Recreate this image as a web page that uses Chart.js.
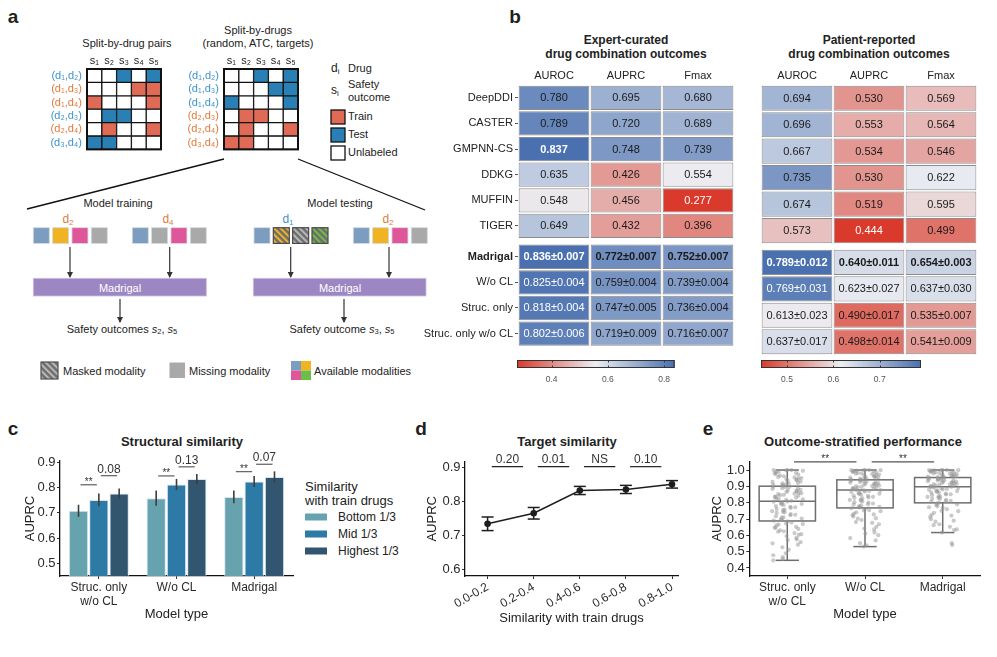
<!DOCTYPE html>
<html>
<head>
<meta charset="utf-8">
<title>Madrigal evaluation figure</title>
<script src="https://cdn.jsdelivr.net/npm/chart.js@4.4.1/dist/chart.umd.min.js"></script>
<style>
  html, body { margin: 0; padding: 0; background: #fff; }
  #page { position: relative; width: 997px; height: 657px; overflow: hidden; background: #fff; }
  #page canvas, #page svg { position: absolute; }
  #art text { dominant-baseline: central; }
</style>
</head>
<body>
<div id="page">
<svg id="art" width="997" height="657" style="left:0;top:0" font-family="Liberation Sans, Arial, sans-serif" fill="#222">
  <defs>
    <marker id="arrow" markerUnits="userSpaceOnUse" markerWidth="6" markerHeight="6" refX="5" refY="3" orient="auto">
      <path d="M0,0 L6,3 L0,6 z" fill="#333"/>
    </marker>
    <pattern id="hatch-y" width="4.5" height="4.5" patternUnits="userSpaceOnUse" patternTransform="rotate(-45)">
      <rect width="4.5" height="4.5" fill="#6e6e6e"/><rect width="2" height="4.5" fill="#f0b323"/>
    </pattern>
    <pattern id="hatch-g" width="4.5" height="4.5" patternUnits="userSpaceOnUse" patternTransform="rotate(-45)">
      <rect width="4.5" height="4.5" fill="#6e6e6e"/><rect width="2" height="4.5" fill="#b8b8b8"/>
    </pattern>
    <pattern id="hatch-n" width="4.5" height="4.5" patternUnits="userSpaceOnUse" patternTransform="rotate(-45)">
      <rect width="4.5" height="4.5" fill="#6e6e6e"/><rect width="2" height="4.5" fill="#6cbf45"/>
    </pattern>
  </defs>

  <!-- panel letters -->
  <g font-size="19" font-weight="bold" fill="#231f20" text-anchor="middle">
    <text x="13" y="16">a</text>
    <text x="515" y="16">b</text>
    <text x="13" y="428">c</text>
    <text x="421" y="428">d</text>
    <text x="708" y="428">e</text>
  </g>

  <!-- panel a headings -->
  <g font-size="11" text-anchor="middle">
    <text x="127" y="43">Split-by-drug pairs</text>
    <text x="258" y="30">Split-by-drugs</text>
    <text x="258" y="43">(random, ATC, targets)</text>
  </g>

  <!-- panel a legend -->
  <g font-size="11">
    <text x="331" y="68" font-size="12">d<tspan font-size="8" dy="3">i</tspan></text>
    <text x="348" y="68">Drug</text>
    <text x="331" y="90" font-size="12">s<tspan font-size="8" dy="3">i</tspan></text>
    <text x="348" y="84">Safety</text>
    <text x="348" y="97">outcome</text>
    <rect x="331" y="110" width="14" height="14" fill="#df6a56" stroke="#111" stroke-width="1.3"/>
    <text x="348" y="115.5">Train</text>
    <rect x="331" y="128" width="14" height="14" fill="#2a80b5" stroke="#111" stroke-width="1.3"/>
    <text x="348" y="133.5">Test</text>
    <rect x="331" y="146" width="14" height="14" fill="#fff" stroke="#111" stroke-width="1.3"/>
    <text x="348" y="151.5">Unlabeled</text>
  </g>

  <!-- zoom lines -->
  <g stroke="#111" stroke-width="1.3">
    <line x1="224" y1="159" x2="27" y2="209"/>
    <line x1="298" y1="159" x2="425" y2="210"/>
  </g>

  <g font-size="11" text-anchor="middle">
    <text x="118" y="203">Model training</text>
    <text x="340" y="203">Model testing</text>
  </g>
  <g font-size="12" text-anchor="middle">
    <text x="68" y="219" fill="#e07b3a">d<tspan font-size="8" dy="3">2</tspan></text>
    <text x="168" y="219" fill="#e07b3a">d<tspan font-size="8" dy="3">4</tspan></text>
    <text x="288" y="219" fill="#3f93cc">d<tspan font-size="8" dy="3">1</tspan></text>
    <text x="388" y="219" fill="#e07b3a">d<tspan font-size="8" dy="3">2</tspan></text>
  </g>
  <g id="modalities"></g>

  <g stroke="#333" stroke-width="1.2" marker-end="url(#arrow)">
    <line x1="70" y1="247" x2="70" y2="277"/>
    <line x1="169.7" y1="247" x2="169.7" y2="277"/>
    <line x1="290.7" y1="247" x2="290.7" y2="277"/>
    <line x1="389" y1="247" x2="389" y2="277"/>
    <line x1="120" y1="299" x2="120" y2="322"/>
    <line x1="344" y1="299" x2="344" y2="322"/>
  </g>
  <rect x="33.3" y="278.3" width="173" height="17.7" fill="#9c87c3" stroke="#cbbfe0" stroke-width="0.8"/>
  <rect x="253.3" y="278.3" width="172.7" height="17.7" fill="#9c87c3" stroke="#cbbfe0" stroke-width="0.8"/>
  <g font-size="11" fill="#fff" text-anchor="middle">
    <text x="120" y="287.5">Madrigal</text>
    <text x="340" y="287.5">Madrigal</text>
  </g>
  <g font-size="11" text-anchor="middle">
    <text x="122" y="328.5">Safety outcomes <tspan font-style="italic">s</tspan><tspan font-size="7.5" dy="2.5">2</tspan><tspan dy="-2.5">, </tspan><tspan font-style="italic">s</tspan><tspan font-size="7.5" dy="2.5">5</tspan></text>
    <text x="342" y="328.5">Safety outcome  <tspan font-style="italic">s</tspan><tspan font-size="7.5" dy="2.5">3</tspan><tspan dy="-2.5">, </tspan><tspan font-style="italic">s</tspan><tspan font-size="7.5" dy="2.5">5</tspan></text>
  </g>

  <!-- bottom legend of panel a -->
  <rect x="41" y="362" width="17" height="17" fill="url(#hatch-g)" stroke="#505050" stroke-width="1.2"/>
  <rect x="169.5" y="362.5" width="15.5" height="15.5" fill="#a9a9a9"/>
  <rect x="291" y="361" width="10" height="9.5" fill="#7d9dc0"/>
  <rect x="301" y="361" width="10" height="9.5" fill="#f0b323"/>
  <rect x="291" y="370.5" width="10" height="9.5" fill="#e0569b"/>
  <rect x="301" y="370.5" width="10" height="9.5" fill="#6cbf45"/>
  <g font-size="11">
    <text x="63" y="370.5">Masked modality</text>
    <text x="189" y="370.5">Missing modality</text>
    <text x="314" y="370.5">Available modalities</text>
  </g>

  <!-- panel b headings -->
  <g font-size="12" font-weight="bold" text-anchor="middle">
    <text x="626" y="39.5">Expert-curated</text>
    <text x="626" y="53.5">drug combination outcomes</text>
    <text x="869" y="39.5">Patient-reported</text>
    <text x="869" y="53.5">drug combination outcomes</text>
  </g>

  <!-- panel titles c, d, e -->
  <g font-size="13" font-weight="bold" text-anchor="middle">
    <text x="182" y="441">Structural similarity</text>
    <text x="567" y="441">Target similarity</text>
    <text x="863" y="441">Outcome-stratified performance</text>
  </g>
  <g id="legend-c"></g>
</svg>

<canvas id="grid-pairs" width="143" height="109" style="left:20px;top:52px"></canvas>
<canvas id="grid-drugs" width="143" height="109" style="left:157px;top:52px"></canvas>
<canvas id="heat-expert" width="334" height="293" style="left:400px;top:62px"></canvas>
<canvas id="heat-patient" width="216" height="293" style="left:761px;top:62px"></canvas>
<canvas id="bar-expert" width="160" height="32" style="left:517px;top:358px"></canvas>
<canvas id="bar-patient" width="160" height="32" style="left:761px;top:358px"></canvas>
<canvas id="chart-c" width="300" height="190" style="left:0px;top:432px"></canvas>
<canvas id="chart-d" width="285" height="194" style="left:400px;top:432px"></canvas>
<canvas id="chart-e" width="290" height="190" style="left:700px;top:432px"></canvas>
</div>

<script>
// ---------- a: split schematics (0 unlabeled, 1 train, 2 test) ----------
const outcomeLabels = ['s₁', 's₂', 's₃', 's₄', 's₅'];
const pairLabels = ['(d₁,d₂)', '(d₁,d₃)', '(d₁,d₄)', '(d₂,d₃)', '(d₂,d₄)', '(d₃,d₄)'];
const pairRoles = [2, 1, 1, 2, 1, 2];
const pairSplit = [
  [0, 0, 2, 0, 2],
  [0, 0, 0, 1, 1],
  [1, 0, 0, 0, 1],
  [0, 2, 2, 0, 0],
  [0, 1, 0, 0, 1],
  [2, 2, 0, 0, 0]
];
const drugRoles = [2, 2, 2, 1, 1, 1];
const drugSplit = [
  [0, 0, 2, 0, 2],
  [0, 0, 0, 2, 2],
  [2, 0, 0, 0, 2],
  [0, 1, 1, 0, 0],
  [0, 1, 0, 0, 1],
  [1, 1, 0, 0, 0]
];

// ---------- b: benchmark tables ----------
const models = ['DeepDDI', 'CASTER', 'GMPNN-CS', 'DDKG', 'MUFFIN', 'TIGER', 'Madrigal', 'W/o CL', 'Struc. only', 'Struc. only w/o CL'];
const metrics = ['AUROC', 'AUPRC', 'Fmax'];
const expertAuroc = [0.780, 0.789, 0.837, 0.635, 0.548, 0.649, 0.836, 0.825, 0.818, 0.802];
const expertAuprc = [0.695, 0.720, 0.748, 0.426, 0.456, 0.432, 0.772, 0.759, 0.747, 0.719];
const expertFmax = [0.680, 0.689, 0.739, 0.554, 0.277, 0.396, 0.752, 0.739, 0.736, 0.716];
const expertAurocSd = [null, null, null, null, null, null, 0.007, 0.004, 0.004, 0.006];
const expertAuprcSd = [null, null, null, null, null, null, 0.007, 0.004, 0.005, 0.009];
const expertFmaxSd = [null, null, null, null, null, null, 0.007, 0.004, 0.004, 0.007];
const expertBold = [[2, 0]];
const patientAuroc = [0.694, 0.696, 0.667, 0.735, 0.674, 0.573, 0.789, 0.769, 0.613, 0.637];
const patientAuprc = [0.530, 0.553, 0.534, 0.530, 0.519, 0.444, 0.640, 0.623, 0.490, 0.498];
const patientFmax = [0.569, 0.564, 0.546, 0.622, 0.595, 0.499, 0.654, 0.637, 0.535, 0.541];
const patientAurocSd = [null, null, null, null, null, null, 0.012, 0.031, 0.023, 0.017];
const patientAuprcSd = [null, null, null, null, null, null, 0.011, 0.027, 0.017, 0.014];
const patientFmaxSd = [null, null, null, null, null, null, 0.003, 0.030, 0.007, 0.009];
const patientBold = [];
const expertBarTicks = [0.4, 0.6, 0.8];
const patientBarTicks = [0.5, 0.6, 0.7];

// ---------- c: structural similarity ----------
const simModels = [['Struc. only', 'w/o CL'], 'W/o CL', 'Madrigal'];
const simGroups = ['Bottom 1/3', 'Mid 1/3', 'Highest 1/3'];
const simBottom = [0.708, 0.758, 0.763];
const simMid = [0.751, 0.812, 0.824];
const simHigh = [0.776, 0.834, 0.842];
const simBottomErr = [0.024, 0.030, 0.025];
const simMidErr = [0.025, 0.022, 0.022];
const simHighErr = [0.020, 0.020, 0.022];
const simSigBottomMid = ['**', '**', '**'];
const simSigMidHigh = ['0.08', '0.13', '0.07'];
const simSigLowY = [0.811, 0.846, 0.863];
const simSigHighY = [0.847, 0.882, 0.892];
const simTicks = [0.5, 0.6, 0.7, 0.8, 0.9];

// ---------- d: target similarity ----------
const targetBins = ['0.0-0.2', '0.2-0.4', '0.4-0.6', '0.6-0.8', '0.8-1.0'];
const targetAuprc = [0.735, 0.766, 0.833, 0.836, 0.851];
const targetErr = [0.020, 0.017, 0.012, 0.012, 0.011];
const targetSig = ['0.20', '0.01', 'NS', '0.10'];
const targetSigY = 0.903;
const targetTicks = [0.6, 0.7, 0.8, 0.9];

// ---------- e: outcome-stratified ----------
const outcomeModels = [['Struc. only', 'w/o CL'], 'W/o CL', 'Madrigal'];
const boxLow = [0.447, 0.531, 0.617];
const boxQ1 = [0.688, 0.768, 0.799];
const boxMedian = [0.809, 0.878, 0.897];
const boxQ3 = [0.901, 0.940, 0.954];
const boxHigh = [1.0, 1.0, 1.0];
const outcomeSig = ['**', '**'];
const outcomeSigY = 1.05;
const outcomeTicks = [0.4, 0.5, 0.6, 0.7, 0.8, 0.9, 1.0];
const strucOnlyPoints = [1.0, 1.0, 1.0, 0.998, 0.995, 0.99, 0.987, 0.983, 0.981, 0.975, 0.972, 0.966, 0.962, 0.958, 0.955, 0.951, 0.949, 0.944, 0.941,
  0.938, 0.933, 0.929, 0.927, 0.921, 0.918, 0.915, 0.912, 0.909, 0.907, 0.903,
  0.897, 0.896, 0.894, 0.889, 0.887, 0.884, 0.879, 0.874, 0.872, 0.869, 0.866, 0.861, 0.858, 0.855, 0.852, 0.848, 0.846, 0.843, 0.838, 0.835,
  0.831, 0.826, 0.823, 0.821, 0.817, 0.812, 0.808,
  0.806, 0.801, 0.797, 0.792, 0.79, 0.786, 0.779, 0.775, 0.772, 0.768, 0.761, 0.758, 0.755, 0.748, 0.744, 0.741, 0.737, 0.73, 0.726, 0.723,
  0.717, 0.71, 0.708, 0.703, 0.697, 0.693, 0.69,
  0.686, 0.679, 0.672, 0.669, 0.666, 0.661, 0.652, 0.648, 0.645, 0.639, 0.631, 0.625, 0.622, 0.614, 0.607, 0.603, 0.596, 0.584, 0.575,
  0.571, 0.558, 0.551, 0.543, 0.527, 0.511, 0.49, 0.478, 0.466, 0.455, 0.447];
const woClPoints = [1.0, 1.0, 1.0, 1.0, 0.999, 0.997, 0.995, 0.993, 0.99, 0.988, 0.986, 0.982, 0.98, 0.978, 0.975, 0.972, 0.97, 0.967, 0.963, 0.961,
  0.958, 0.955, 0.953, 0.951, 0.948, 0.945, 0.944, 0.941, 0.94,
  0.937, 0.935, 0.934, 0.93, 0.927, 0.926, 0.923, 0.92, 0.918, 0.916, 0.912, 0.91, 0.908, 0.905, 0.902, 0.9, 0.897, 0.894, 0.893, 0.889,
  0.886, 0.885, 0.882, 0.879, 0.877, 0.876, 0.872, 0.868, 0.866, 0.863,
  0.858, 0.855, 0.853, 0.848, 0.844, 0.842, 0.836, 0.832, 0.83, 0.826, 0.819, 0.817, 0.813, 0.808, 0.803, 0.801, 0.795, 0.79, 0.788,
  0.784, 0.779, 0.774, 0.772, 0.77, 0.766, 0.761,
  0.755, 0.752, 0.748, 0.741, 0.733, 0.728, 0.724, 0.716, 0.705, 0.702, 0.694, 0.681, 0.676, 0.668, 0.652, 0.642, 0.636, 0.618,
  0.611, 0.601, 0.583, 0.569, 0.552, 0.539, 0.531];
const madrigalPoints = [1.0, 1.0, 1.0, 1.0, 0.999, 0.998, 0.995, 0.994, 0.992, 0.989, 0.987, 0.985, 0.982, 0.98, 0.978, 0.975, 0.973, 0.972,
  0.968, 0.966, 0.965, 0.962, 0.959, 0.958, 0.956,
  0.953, 0.95, 0.95, 0.947, 0.944, 0.943, 0.941, 0.938, 0.936, 0.935, 0.932, 0.929, 0.928, 0.925, 0.922, 0.921, 0.919, 0.915, 0.913,
  0.912, 0.909, 0.906, 0.905, 0.902, 0.899, 0.898, 0.896,
  0.892, 0.89, 0.888, 0.884, 0.882, 0.879, 0.875, 0.872, 0.871, 0.866, 0.862, 0.861, 0.856, 0.851, 0.85, 0.846, 0.84, 0.838, 0.835,
  0.829, 0.824, 0.823, 0.817, 0.811, 0.809, 0.805, 0.8,
  0.794, 0.79, 0.786, 0.778, 0.772, 0.769, 0.76, 0.75, 0.748, 0.738, 0.726, 0.721, 0.713, 0.699, 0.69, 0.684, 0.668, 0.662,
  0.652, 0.636, 0.632, 0.617, 0.552, 0.541];

// ---------- styles ----------
const FONT = "'Liberation Sans', Arial, Helvetica, sans-serif";
Chart.defaults.font.family = FONT;
Chart.defaults.color = '#222';
const TRAIN = '#df6a56', TEST = '#2a80b5';
const ORANGE = '#e07b3a', BLUE = '#3f93cc';
const simColors = ['#67a3ae', '#2d7aa7', '#32566f'];
const LOW = [217, 58, 43], MID = [236, 238, 242], HIGH = [74, 112, 176];

function divT(v, lo, hi) {
  const mid = (lo + hi) / 2;
  return Math.max(-1, Math.min(1, (v - mid) / (hi - mid)));
}
function divColor(v, lo, hi) {
  const t = divT(v, lo, hi);
  const end = t < 0 ? LOW : HIGH, a = Math.abs(t);
  return 'rgb(' + end.map((e, i) => Math.round(e * a + MID[i] * (1 - a))).join(',') + ')';
}

function baseOptions(padding) {
  return {
    responsive: false, maintainAspectRatio: false, animation: false, events: [],
    layout: { padding: padding },
    plugins: { legend: { display: false }, tooltip: { enabled: false } }
  };
}

// grid of cells: rows are datasets of floating bars, columns are categories
function makeGrid(id, o) {
  const datasets = o.rows.map((name, r) => ({
    label: name,
    data: o.cols.map(() => [o.rowPos[r] + o.inset, o.rowPos[r] + 1 - o.inset]),
    backgroundColor: o.cols.map((_, c) => o.fill(r, c)),
    borderColor: o.stroke, borderWidth: o.strokeWidth, borderSkipped: false,
    grouped: false, barPercentage: o.barPct, categoryPercentage: 1
  }));
  const yAxis = { type: 'linear', reverse: true, min: 0, max: o.yMax, display: o.showRows };
  if (o.showRows) {
    Object.assign(yAxis, {
      grid: { display: o.rowTicks, drawTicks: o.rowTicks, drawOnChartArea: false, tickLength: 3, color: '#555' },
      border: { display: false },
      afterBuildTicks: s => { s.ticks = o.rowPos.map(p => ({ value: p + 0.5 })); },
      ticks: {
        autoSkip: false, padding: o.rowPad,
        callback: (v, i) => o.rows[i],
        color: c => o.rowColor(c.index),
        font: c => o.rowFont(c.index)
      },
      afterFit: s => { s.width = o.yWidth; }
    });
  }
  return new Chart(document.getElementById(id), {
    type: 'bar',
    data: { labels: o.cols, datasets: datasets },
    options: Object.assign(baseOptions(o.padding || 0), {
      scales: {
        x: {
          position: 'top', grid: { display: false, drawTicks: false }, border: { display: false },
          ticks: { padding: o.colPad, font: { size: 11 }, color: '#222', maxRotation: 0, autoSkip: false },
          afterFit: s => { s.height = o.xHeight; }
        },
        y: yAxis
      }
    }),
    plugins: [{
      id: 'cells',
      afterDatasetsDraw(chart) {
        const ctx = chart.ctx;
        ctx.save();
        if (o.text) {
          ctx.textAlign = 'center';
          ctx.textBaseline = 'middle';
          chart.data.datasets.forEach((ds, r) => {
            chart.getDatasetMeta(r).data.forEach((el, c) => {
              const p = el.getProps(['x', 'y', 'base'], true);
              ctx.font = (o.bold(r, c) ? 'bold ' : '') + '11px ' + FONT;
              ctx.fillStyle = o.textColor(r, c);
              ctx.fillText(o.text(r, c), p.x, (p.y + p.base) / 2 + 0.5);
            });
          });
        }
        if (o.frame) {
          const a = chart.chartArea;
          ctx.strokeStyle = '#111';
          ctx.lineWidth = 2;
          ctx.strokeRect(a.left, a.top, a.right - a.left, a.bottom - a.top);
        }
        ctx.restore();
      }
    }]
  });
}

// ---------- panel a grids ----------
const splitFill = v => (v === 1 ? TRAIN : v === 2 ? TEST : '#fff');
[['grid-pairs', pairLabels, pairRoles, pairSplit], ['grid-drugs', pairLabels, drugRoles, drugSplit]].forEach(([id, rows, roles, split]) => {
  makeGrid(id, {
    rows: rows, cols: outcomeLabels, rowPos: [0, 1, 2, 3, 4, 5], yMax: 6, inset: 0, barPct: 1,
    stroke: '#111', strokeWidth: 1, showRows: true, rowTicks: false, rowPad: 5, colPad: 1,
    xHeight: 17, yWidth: 67, frame: true, padding: { right: 2, bottom: 2 },
    fill: (r, c) => splitFill(split[r][c]),
    rowColor: i => (roles[i] === 1 ? ORANGE : BLUE),
    rowFont: () => ({ size: 11 })
  });
});

// modality squares of the schematic
(function () {
  const g = document.getElementById('modalities');
  const fills = { b: '#7d9dc0', y: '#f0b323', p: '#e0569b', n: '#a9a9a9', hy: 'url(#hatch-y)', hg: 'url(#hatch-g)', hn: 'url(#hatch-n)' };
  const groups = [[33.3, ['b', 'y', 'p', 'n']], [132.3, ['b', 'n', 'p', 'n']], [254, ['b', 'hy', 'hg', 'hn']], [353.3, ['b', 'y', 'p', 'n']]];
  groups.forEach(([x0, items]) => {
    items.forEach((k, i) => {
      const r = document.createElementNS('http://www.w3.org/2000/svg', 'rect');
      r.setAttribute('x', x0 + i * 19.33);
      r.setAttribute('y', 227.7);
      r.setAttribute('width', 16);
      r.setAttribute('height', 15.7);
      r.setAttribute('fill', fills[k]);
      r.setAttribute('stroke', k[0] === 'h' ? '#4a4a4a' : '#d4dae2');
      r.setAttribute('stroke-width', k[0] === 'h' ? 1.2 : 0.8);
      g.appendChild(r);
    });
  });
})();

// ---------- panel b heatmaps ----------
function fmt(v, sd) { return sd == null ? v.toFixed(3) : v.toFixed(3) + '±' + sd.toFixed(3); }
const rowPositions = [0, 1, 2, 3, 4, 5, 6.2, 7.2, 8.2, 9.2];

function heatmap(id, cols, sds, boldCells, showRows) {
  const all = cols.flat();
  const lo = Math.min(...all), hi = Math.max(...all);
  makeGrid(id, {
    rows: models, cols: metrics, rowPos: rowPositions, yMax: 10.2, inset: 0.025, barPct: 0.982,
    stroke: '#8c8c8c', strokeWidth: 1, showRows: showRows, rowTicks: true, rowPad: 2, colPad: 2,
    xHeight: 23, yWidth: 118, frame: false,
    fill: (r, c) => divColor(cols[c][r], lo, hi),
    rowColor: () => '#222',
    rowFont: i => ({ size: 11, weight: models[i] === 'Madrigal' ? 'bold' : 'normal' }),
    text: (r, c) => fmt(cols[c][r], sds[c][r]),
    textColor: (r, c) => (Math.abs(divT(cols[c][r], lo, hi)) > 0.85 ? '#fff' : '#1a1a1a'),
    bold: (r, c) => models[r] === 'Madrigal' || boldCells.some(b => b[0] === r && b[1] === c)
  });
  return [lo, hi];
}

function colorbar(id, lo, hi, ticks) {
  return new Chart(document.getElementById(id), {
    type: 'scatter',
    data: { datasets: [] },
    options: Object.assign(baseOptions({ top: 2, bottom: 0 }), {
      scales: {
        x: {
          type: 'linear', min: lo, max: hi,
          afterBuildTicks: s => { s.ticks = ticks.map(v => ({ value: v })); },
          ticks: { callback: v => v.toFixed(1), font: { size: 8.5 }, color: '#555', padding: 7 },
          grid: { display: false, drawTicks: false }, border: { display: false },
          afterFit: s => { s.height = 22; }
        },
        y: { display: false, min: 0, max: 1 }
      }
    }),
    plugins: [{
      id: 'gradient',
      beforeDatasetsDraw(chart) {
        const { ctx, chartArea: a, scales: { x } } = chart;
        ctx.save();
        for (let px = Math.floor(a.left); px < a.right; px++) {
          ctx.fillStyle = divColor(x.getValueForPixel(px + 0.5), lo, hi);
          ctx.fillRect(px, a.top, 1, a.bottom - a.top);
        }
        ctx.strokeStyle = '#333';
        ctx.lineWidth = 1;
        ctx.strokeRect(a.left + 0.5, a.top + 0.5, a.right - a.left - 1, a.bottom - a.top - 1);
        ticks.forEach(v => {
          const px = Math.round(x.getPixelForValue(v)) + 0.5;
          ctx.beginPath();
          ctx.moveTo(px, a.top); ctx.lineTo(px, a.top + 2.5);
          ctx.moveTo(px, a.bottom); ctx.lineTo(px, a.bottom - 2.5);
          ctx.stroke();
        });
        ctx.restore();
      }
    }]
  });
}

const expertRange = heatmap('heat-expert', [expertAuroc, expertAuprc, expertFmax], [expertAurocSd, expertAuprcSd, expertFmaxSd], expertBold, true);
const patientRange = heatmap('heat-patient', [patientAuroc, patientAuprc, patientFmax], [patientAurocSd, patientAuprcSd, patientFmaxSd], patientBold, false);
colorbar('bar-expert', expertRange[0], expertRange[1], expertBarTicks);
colorbar('bar-patient', patientRange[0], patientRange[1], patientBarTicks);

// ---------- shared axes for c, d, e ----------
function xAxisOpts(o) {
  const a = {
    type: o.type || 'category',
    grid: { display: true, drawOnChartArea: false, offset: false, tickLength: 3, color: '#333' },
    border: { display: true, color: '#111', width: 1.3 },
    ticks: { font: { size: 12 }, color: '#2a2a2a', padding: o.pad || 1, autoSkip: false, minRotation: o.rot || 0, maxRotation: o.rot || 0 },
    title: { display: true, text: o.title, font: { size: 13 }, color: '#222', padding: { top: 0, bottom: 0 } },
    afterFit: s => { s.height = o.height; }
  };
  if (o.type === 'linear') {
    a.min = o.min;
    a.max = o.max;
    a.afterBuildTicks = s => { s.ticks = o.labels.map((_, i) => ({ value: i })); };
    a.ticks.callback = (v, i) => o.labels[i];
  }
  return a;
}
function yAxisOpts(o) {
  return {
    min: o.min, max: o.max,
    grid: { display: true, drawOnChartArea: false, tickLength: 3, color: '#333' },
    border: { display: true, color: '#111', width: 1.3 },
    afterBuildTicks: s => { s.ticks = o.ticks.map(v => ({ value: v })); },
    ticks: { font: { size: 13 }, color: '#2a2a2a', padding: 1.5, callback: v => v.toFixed(1) },
    title: { display: true, text: 'AUPRC', font: { size: 13 }, color: '#222', padding: { top: o.titlePad, bottom: 0 } },
    afterFit: s => { s.width = o.width; }
  };
}
function hLine(ctx, x1, x2, y) {
  ctx.beginPath(); ctx.moveTo(x1, y); ctx.lineTo(x2, y); ctx.stroke();
}
function vLine(ctx, x, y1, y2) {
  ctx.beginPath(); ctx.moveTo(x, y1); ctx.lineTo(x, y2); ctx.stroke();
}

// ---------- panel c ----------
const simValues = [simBottom, simMid, simHigh];
const simErrs = [simBottomErr, simMidErr, simHighErr];
new Chart(document.getElementById('chart-c'), {
  type: 'bar',
  data: {
    labels: simModels,
    datasets: simGroups.map((g, i) => ({
      label: g, data: simValues[i], backgroundColor: simColors[i],
      borderColor: 'rgba(214,228,238,0.95)', borderWidth: 1,
      barPercentage: 0.95, categoryPercentage: 0.785
    }))
  },
  options: Object.assign(baseOptions({ top: 29, right: 7 }), {
    scales: {
      x: xAxisOpts({ title: 'Model type', height: 46 }),
      y: yAxisOpts({ min: 0.45, max: 0.905, ticks: simTicks, width: 60, titlePad: 23 })
    }
  }),
  plugins: [{
    id: 'simExtras',
    afterDatasetsDraw(chart) {
      const { ctx, scales: { y } } = chart;
      const metas = simGroups.map((_, d) => chart.getDatasetMeta(d).data);
      ctx.save();
      ctx.strokeStyle = '#3d3d3d';
      ctx.lineWidth = 1.6;
      metas.forEach((bars, d) => bars.forEach((bar, j) => {
        vLine(ctx, bar.x, y.getPixelForValue(simValues[d][j] - simErrs[d][j]), y.getPixelForValue(simValues[d][j] + simErrs[d][j]));
      }));
      ctx.strokeStyle = '#6a6a6a';
      ctx.lineWidth = 1.3;
      ctx.fillStyle = '#333';
      ctx.textAlign = 'center';
      ctx.textBaseline = 'alphabetic';
      simModels.forEach((_, j) => {
        [[0, 1, simSigLowY[j], simSigBottomMid[j]], [1, 2, simSigHighY[j], simSigMidHigh[j]]].forEach(([a, b, v, txt]) => {
          const x1 = metas[a][j].x + 2, x2 = metas[b][j].x - 2, py = y.getPixelForValue(v);
          hLine(ctx, x1, x2, py);
          const star = txt === '**';
          ctx.font = (star ? 10 : 12) + 'px ' + FONT;
          ctx.fillText(txt, (x1 + x2) / 2, star ? py + 0.5 : py - 3);
        });
      });
      ctx.restore();
    }
  }]
});

// legend of panel c
(function () {
  const g = document.getElementById('legend-c');
  const add = (tag, attrs, text) => {
    const el = document.createElementNS('http://www.w3.org/2000/svg', tag);
    Object.entries(attrs).forEach(([k, v]) => el.setAttribute(k, v));
    if (text) el.textContent = text;
    g.appendChild(el);
  };
  add('text', { x: 305, y: 486, 'font-size': 13 }, 'Similarity');
  add('text', { x: 305, y: 500, 'font-size': 13 }, 'with train drugs');
  simGroups.forEach((name, i) => {
    add('rect', { x: 305, y: 513.5 + 17 * i, width: 22, height: 7, fill: simColors[i] });
    add('text', { x: 338, y: 517 + 17 * i, 'font-size': 12 }, name);
  });
})();

// ---------- panel d ----------
new Chart(document.getElementById('chart-d'), {
  type: 'line',
  data: {
    datasets: [{
      data: targetAuprc.map((v, i) => ({ x: i, y: v })),
      borderColor: '#1e1e1e', borderWidth: 1.5, tension: 0,
      pointRadius: 3.3, pointBackgroundColor: '#1e1e1e', pointBorderWidth: 0
    }]
  },
  options: Object.assign(baseOptions({ top: 29.7, right: 7 }), {
    scales: {
      x: xAxisOpts({ type: 'linear', min: -0.49, max: 4.13, labels: targetBins, rot: 30, title: 'Similarity with train drugs', height: 50 }),
      y: yAxisOpts({ min: 0.5815, max: 0.9176, ticks: targetTicks, width: 65, titlePad: 25 })
    }
  }),
  plugins: [{
    id: 'targetExtras',
    afterDatasetsDraw(chart) {
      const { ctx, scales: { x, y } } = chart;
      ctx.save();
      ctx.strokeStyle = '#1e1e1e';
      ctx.lineWidth = 1.5;
      targetAuprc.forEach((v, i) => {
        const px = x.getPixelForValue(i), top = y.getPixelForValue(v + targetErr[i]), bot = y.getPixelForValue(v - targetErr[i]);
        vLine(ctx, px, top, bot);
        hLine(ctx, px - 6, px + 6, top);
        hLine(ctx, px - 6, px + 6, bot);
      });
      ctx.lineWidth = 1.2;
      ctx.strokeStyle = '#222';
      ctx.fillStyle = '#333';
      ctx.textAlign = 'center';
      ctx.textBaseline = 'alphabetic';
      ctx.font = '12px ' + FONT;
      const py = y.getPixelForValue(targetSigY);
      targetSig.forEach((txt, i) => {
        const x1 = x.getPixelForValue(i + 0.09), x2 = x.getPixelForValue(i + 0.77);
        hLine(ctx, x1, x2, py);
        ctx.fillText(txt, (x1 + x2) / 2, py - 3.4);
      });
      ctx.restore();
    }
  }]
});

// ---------- panel e ----------
const outcomePoints = [strucOnlyPoints, woClPoints, madrigalPoints];
// deterministic, scrambled horizontal spread of the points inside each group
const jitter = k => (((k * k * 29 + k * 7 + 5) % 83) / 82 - 0.5) * 0.4;
new Chart(document.getElementById('chart-e'), {
  type: 'scatter',
  data: {
    datasets: outcomePoints.map((pts, g) => ({
      data: pts.map((v, k) => ({ x: g + jitter(k), y: v })),
      pointRadius: 2.1, backgroundColor: 'rgba(150,150,150,0.5)', borderWidth: 0
    }))
  },
  options: Object.assign(baseOptions({ top: 29.7, right: 9.3 }), {
    scales: {
      x: xAxisOpts({ type: 'linear', min: -0.489, max: 2.489, labels: outcomeModels, title: 'Model type', height: 46 }),
      y: yAxisOpts({ min: 0.351, max: 1.051, ticks: outcomeTicks, width: 49.3, titlePad: 10 })
    }
  }),
  plugins: [{
    id: 'boxes',
    beforeDatasetsDraw(chart) {
      const { ctx, scales: { x, y } } = chart;
      ctx.save();
      ctx.strokeStyle = '#6e6e6e';
      ctx.lineWidth = 1.5;
      boxQ1.forEach((q1, g) => {
        const cx = x.getPixelForValue(g);
        const hw = x.getPixelForValue(g + 0.3625) - cx, cw = x.getPixelForValue(g + 0.15) - cx;
        const top = y.getPixelForValue(boxQ3[g]), bot = y.getPixelForValue(q1);
        const hi = y.getPixelForValue(boxHigh[g]), lo = y.getPixelForValue(boxLow[g]);
        ctx.strokeRect(cx - hw, top, 2 * hw, bot - top);
        hLine(ctx, cx - hw, cx + hw, y.getPixelForValue(boxMedian[g]));
        vLine(ctx, cx, top, hi);
        vLine(ctx, cx, bot, lo);
        hLine(ctx, cx - cw, cx + cw, hi);
        hLine(ctx, cx - cw, cx + cw, lo);
      });
      ctx.restore();
    },
    afterDatasetsDraw(chart) {
      const { ctx, scales: { x, y } } = chart;
      ctx.save();
      ctx.strokeStyle = '#555';
      ctx.lineWidth = 1.1;
      ctx.fillStyle = '#333';
      ctx.textAlign = 'center';
      ctx.textBaseline = 'alphabetic';
      ctx.font = '10px ' + FONT;
      const py = y.getPixelForValue(outcomeSigY);
      outcomeSig.forEach((txt, i) => {
        const x1 = x.getPixelForValue(i + 0.086), x2 = x.getPixelForValue(i + 0.89);
        hLine(ctx, x1, x2, py);
        ctx.fillText(txt, (x1 + x2) / 2, py - 0.3);
      });
      ctx.restore();
    }
  }]
});
</script>
</body>
</html>
